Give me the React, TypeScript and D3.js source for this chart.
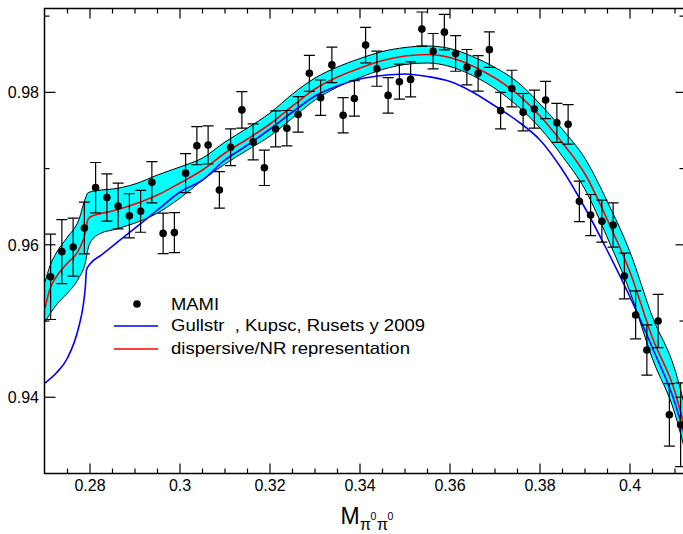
import React from "react";
import * as d3 from "d3";

// ---- data ----
const curveX = [0.27, 0.2711, 0.2725, 0.275, 0.2775, 0.279, 0.2795, 0.28, 0.2825, 0.285, 0.29, 0.295, 0.30, 0.305, 0.31, 0.315, 0.32, 0.325, 0.33, 0.335, 0.34, 0.345, 0.35, 0.355, 0.36, 0.365, 0.37, 0.375, 0.38, 0.385, 0.39, 0.395, 0.40, 0.405, 0.41, 0.412];
const redY = [0.95171, 0.9542, 0.95578, 0.95761, 0.95932, 0.96168, 0.96325, 0.96365, 0.96411, 0.96444, 0.96535, 0.96653, 0.96811, 0.96981, 0.97204, 0.97388, 0.97585, 0.97821, 0.98044, 0.98201, 0.98319, 0.98418, 0.98477, 0.98497, 0.98457, 0.98346, 0.98188, 0.97978, 0.9769, 0.97336, 0.96929, 0.96325, 0.95643, 0.94778, 0.94069, 0.93636];
const bandUpper = [0.95512, 0.95722, 0.95893, 0.96102, 0.96326, 0.96614, 0.9668, 0.96693, 0.96719, 0.96732, 0.96798, 0.96916, 0.97021, 0.97139, 0.97349, 0.97532, 0.97729, 0.97978, 0.98188, 0.98333, 0.98444, 0.98536, 0.98588, 0.98608, 0.98575, 0.9847, 0.98326, 0.98136, 0.97847, 0.97513, 0.97132, 0.96561, 0.95905, 0.95053, 0.94358, 0.93925];
const bandLower = [0.94987, 0.95092, 0.9521, 0.95368, 0.95565, 0.95775, 0.95932, 0.96024, 0.96155, 0.96194, 0.96286, 0.96417, 0.96614, 0.9685, 0.9706, 0.97244, 0.97427, 0.97664, 0.979, 0.9807, 0.98195, 0.983, 0.98365, 0.98385, 0.98339, 0.98221, 0.98051, 0.97821, 0.97533, 0.97159, 0.96726, 0.96089, 0.95381, 0.94503, 0.93781, 0.93348];

const blueX = [0.27, 0.2725, 0.275, 0.2775, 0.2785, 0.279, 0.2792, 0.28, 0.2825, 0.285, 0.29, 0.295, 0.30, 0.305, 0.31, 0.315, 0.32, 0.325, 0.33, 0.335, 0.34, 0.345, 0.35, 0.355, 0.36, 0.365, 0.37, 0.375, 0.38, 0.385, 0.39, 0.395, 0.40, 0.405, 0.41, 0.412];
const blueY = [0.94187, 0.94318, 0.94515, 0.94922, 0.9521, 0.95473, 0.9567, 0.95748, 0.95866, 0.95984, 0.9622, 0.96457, 0.96693, 0.9685, 0.97113, 0.97309, 0.97519, 0.97742, 0.97952, 0.98083, 0.98175, 0.98221, 0.98241, 0.98208, 0.98142, 0.98005, 0.97821, 0.97624, 0.97375, 0.96981, 0.96483, 0.95919, 0.95315, 0.94646, 0.93925, 0.93531];

const mamiX = [0.27125, 0.27375, 0.27625, 0.27875, 0.28125, 0.28375, 0.28625, 0.28875, 0.29125, 0.29375, 0.29625, 0.29875, 0.30125, 0.30375, 0.30625, 0.30875, 0.31125, 0.31375, 0.31625, 0.31875, 0.32125, 0.32375, 0.32625, 0.32875, 0.33125, 0.33375, 0.33625, 0.33875, 0.34125, 0.34375, 0.34625, 0.34875, 0.35125, 0.35375, 0.35625, 0.35875, 0.36125, 0.36375, 0.36625, 0.36875, 0.37125, 0.37375, 0.37625, 0.37875, 0.38125, 0.38375, 0.38625, 0.38875, 0.39125, 0.39375, 0.39625, 0.39875, 0.40125, 0.40375, 0.40625, 0.40875, 0.41125];
const mamiY = [0.9558, 0.9591, 0.9597, 0.9622, 0.9675, 0.9662, 0.9651, 0.9638, 0.9644, 0.9682, 0.9615, 0.9616, 0.9694, 0.9730, 0.9731, 0.9672, 0.9728, 0.9777, 0.9735, 0.9701, 0.9752, 0.9753, 0.9771, 0.9825, 0.9793, 0.9836, 0.9770, 0.9792, 0.9862, 0.9831, 0.9796, 0.9814, 0.9817, 0.9883, 0.9854, 0.9879, 0.9851, 0.9833, 0.9825, 0.9856, 0.9776, 0.9805, 0.9774, 0.9778, 0.9790, 0.9760, 0.9758, 0.9657, 0.9639, 0.9631, 0.9626, 0.9559, 0.9508, 0.9462, 0.9500, 0.9377, 0.9364];
const mamiErr = [0.0056, 0.0042, 0.0038, 0.0034, 0.0033, 0.0031, 0.0030, 0.0029, 0.00275, 0.0027, 0.00266, 0.00262, 0.00255, 0.0025, 0.0025, 0.0024, 0.0024, 0.0024, 0.00236, 0.00232, 0.00236, 0.00232, 0.00233, 0.00236, 0.00232, 0.00232, 0.00232, 0.00232, 0.00232, 0.0023, 0.00232, 0.0023, 0.0023, 0.00224, 0.00232, 0.00232, 0.00233, 0.00232, 0.00233, 0.00233, 0.0024, 0.0024, 0.00245, 0.0025, 0.00245, 0.00255, 0.0026, 0.00266, 0.0027, 0.00275, 0.0029, 0.003, 0.00315, 0.0033, 0.0035, 0.0041, 0.0055];

const xMajorTicks = [0.28, 0.30, 0.32, 0.34, 0.36, 0.38, 0.40];
const xTickLabels = ["0.28", "0.3", "0.32", "0.34", "0.36", "0.38", "0.4"];
const xMinorTicks = [0.275, 0.285, 0.29, 0.295, 0.305, 0.31, 0.315, 0.325, 0.33, 0.335, 0.345, 0.35, 0.355, 0.365, 0.37, 0.375, 0.385, 0.39, 0.395, 0.405, 0.41];
const yMajorTicks = [0.94, 0.96, 0.98];
const yTickLabels = ["0.94", "0.96", "0.98"];
const yMinorTicks = [0.95, 0.97, 0.99];

const legendLabels = ["MAMI", "Gullstr  , Kupsc, Rusets y 2009", "dispersive/NR representation"];

const W = 683, H = 534;
const L = 44.5, R = 684.5, T = 8.5, B = 473.5;
const FONT = "'Liberation Sans', Arial, Helvetica, sans-serif";

export default function App() {
  const x = d3.scaleLinear().domain([0.27, 0.412]).range([L + 0.5, R - 0.5]);
  const y = d3.scaleLinear().domain([0.93, 0.991]).range([B, T]);

  const idx = curveX.map((_, i) => i);
  const area = d3.area<number>().x(i => x(curveX[i])).y0(i => y(bandLower[i])).y1(i => y(bandUpper[i])).curve(d3.curveMonotoneX);
  const upLine = d3.line<number>().x(i => x(curveX[i])).y(i => y(bandUpper[i])).curve(d3.curveMonotoneX);
  const loLine = d3.line<number>().x(i => x(curveX[i])).y(i => y(bandLower[i])).curve(d3.curveMonotoneX);
  const redLine = d3.line<number>().x(i => x(curveX[i])).y(i => y(redY[i])).curve(d3.curveMonotoneX);
  const blueLine = d3.line<number>().x(i => x(blueX[i])).y(i => y(blueY[i])).curve(d3.curveMonotoneX);
  const bidx = blueX.map((_, i) => i);

  return (
    <svg width={W} height={H} style={{ position: "absolute", left: 0, top: 0, background: "#fff" }} fontFamily={FONT}>
      <defs>
        <clipPath id="plot">
          <rect x={L} y={T} width={R - L} height={B - T} />
        </clipPath>
      </defs>
      <g clipPath="url(#plot)">
        <path d={area(idx) || ""} fill="#00ffff" stroke="none" />
        <path d={upLine(idx) || ""} fill="none" stroke="#000" strokeWidth={1} />
        <path d={loLine(idx) || ""} fill="none" stroke="#000" strokeWidth={1} />
        <path d={blueLine(bidx) || ""} fill="none" stroke="#0000ff" strokeWidth={1.6} />
        <path d={redLine(idx) || ""} fill="none" stroke="#ff0000" strokeWidth={1.6} />
        {mamiX.map((mx, i) => {
          const cx = x(mx);
          const y1 = y(mamiY[i] + mamiErr[i]);
          const y2 = y(mamiY[i] - mamiErr[i]);
          return (
            <g key={i} stroke="#000" strokeWidth={1.2}>
              <line x1={cx} x2={cx} y1={y1} y2={y2} />
              <line x1={cx - 5.5} x2={cx + 5.5} y1={y1} y2={y1} />
              <line x1={cx - 5.5} x2={cx + 5.5} y1={y2} y2={y2} />
            </g>
          );
        })}
        {mamiX.map((mx, i) => (
          <circle key={i} cx={x(mx)} cy={y(mamiY[i])} r={3.8} fill="#000" />
        ))}
      </g>

      {/* ticks */}
      <g stroke="#000" strokeWidth={1.2}>
        {xMajorTicks.map(t => (
          <g key={"xm" + t}>
            <line x1={x(t)} x2={x(t)} y1={B} y2={B - 10} />
            <line x1={x(t)} x2={x(t)} y1={T} y2={T + 10} />
          </g>
        ))}
        {xMinorTicks.map(t => (
          <g key={"xn" + t}>
            <line x1={x(t)} x2={x(t)} y1={B} y2={B - 5} />
            <line x1={x(t)} x2={x(t)} y1={T} y2={T + 5} />
          </g>
        ))}
        {yMajorTicks.map(t => (
          <g key={"ym" + t}>
            <line x1={L} x2={L + 11} y1={y(t)} y2={y(t)} />
            <line x1={R} x2={R - 9} y1={y(t)} y2={y(t)} />
          </g>
        ))}
        {yMinorTicks.map(t => (
          <g key={"yn" + t}>
            <line x1={L} x2={L + 5} y1={y(t)} y2={y(t)} />
            <line x1={R} x2={R - 5} y1={y(t)} y2={y(t)} />
          </g>
        ))}
      </g>
      <rect x={L} y={T} width={R - L} height={B - T} fill="none" stroke="#000" strokeWidth={1.5} />

      {/* tick labels */}
      {xMajorTicks.map((t, i) => (
        <text key={"xl" + t} x={x(t)} y={491} textAnchor="middle" fontSize={16} fill="#000">{xTickLabels[i]}</text>
      ))}
      {yMajorTicks.map((t, i) => (
        <text key={"yl" + t} x={39} y={y(t) + 6} textAnchor="end" fontSize={16} fill="#000">{yTickLabels[i]}</text>
      ))}

      {/* axis title: M with subscript pi0 pi0 */}
      <text x={340.5} y={523.5} fontSize={23} fill="#000">
        M
        <tspan x={360} y={529.5} fontSize={16}>π</tspan>
        <tspan x={370.5} y={520} fontSize={10.5}>0</tspan>
        <tspan x={377} y={529.5} fontSize={16}>π</tspan>
        <tspan x={387.5} y={520} fontSize={10.5}>0</tspan>
      </text>

      {/* legend */}
      <circle cx={137} cy={304} r={3.8} fill="#000" />
      <text x={171} y={310} fontSize={16.5} fill="#000" textLength={48} lengthAdjust="spacingAndGlyphs">{legendLabels[0]}</text>
      <line x1={114} x2={158} y1={326} y2={326} stroke="#0000ff" strokeWidth={1.6} />
      <text x={171} y={331} fontSize={16.5} fill="#000" textLength={254} lengthAdjust="spacingAndGlyphs" style={{ whiteSpace: "pre" }}>{legendLabels[1]}</text>
      <line x1={114} x2={158} y1={349} y2={349} stroke="#ff0000" strokeWidth={1.6} />
      <text x={171} y={354} fontSize={16.5} fill="#000" textLength={239} lengthAdjust="spacingAndGlyphs">{legendLabels[2]}</text>
    </svg>
  );
}
